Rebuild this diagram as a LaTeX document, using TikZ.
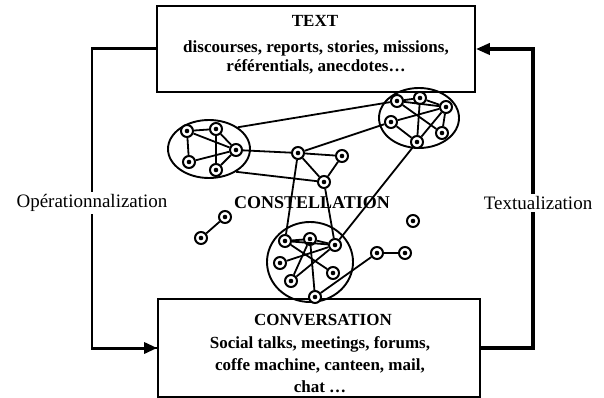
\documentclass[tikz,border=0pt]{standalone}
\usepackage{fontspec}
\setmainfont{Liberation Serif}
\usetikzlibrary{shapes.geometric,arrows.meta}
\begin{document}
\begin{tikzpicture}[x=1pt,y=-1pt,
  boxst/.style={draw,line width=1.6pt,rectangle,inner sep=0pt},
  boxtext/.style={anchor=base,font=\fontsize{17}{20}\selectfont\bfseries,inner sep=0pt},
  lbl/.style={font=\fontsize{19}{22}\selectfont,fill=white,inner sep=2pt},
  clus/.style={draw,line width=1.9pt,ellipse,inner sep=0pt},
  nd/.style={draw,line width=2pt,circle,minimum size=12pt,inner sep=0pt,fill=white},
  ed/.style={line width=1.8pt}]
\useasboundingbox (0,0) rectangle (604,398);

% boxes
\node[boxst,minimum width=318pt,minimum height=86pt] (T) at (316,49) {};
\node[boxst,minimum width=322pt,minimum height=98pt] (C) at (319,348) {};

\node[boxtext] (tx0) at (315,27) {TEXT};
\node[boxtext] (tx1) at (316,53) {discourses, reports, stories, missions,};
\node[boxtext] (tx2) at (316,72) {référentials, anecdotes…};

\node[boxtext] (cv0) at (323,325) {CONVERSATION};
\node[boxtext] (cv1) at (320,348) {Social talks, meetings, forums,};
\node[boxtext] (cv2) at (320,370) {coffe machine, canteen, mail,};
\node[boxtext] (cv3) at (320,392) {chat …};

% side connectors
\coordinate (L1) at (92,49);
\coordinate (L2) at (92,348);
\coordinate (R1) at (533,348);
\draw[line width=2pt] (T.west) -- (L1) -- (L2) -- (C.west);
\draw[line width=3pt] (T.west) -- ([xshift=-1pt]L1);
\draw[line width=3pt,-{Triangle[length=13pt,width=11pt]}] ([xshift=-1pt]L2) -- (C.west);
\draw[line width=4pt,-{Triangle[length=14pt,width=11pt]}] (C.east) -- (R1) |- (T.east);
\node[lbl] (lop) at (92,203) {Opérationnalization};
\node[lbl] (ltx) at (538,203) {Textualization};

% clusters
\node[clus,minimum width=82pt,minimum height=58pt] (EA) at (209,149) {};
\node[clus,minimum width=80pt,minimum height=60pt] (EB) at (419,118) {};
\node[clus,minimum width=86pt,minimum height=80pt] (ED) at (310,262) {};

\node[font=\fontsize{18}{20}\selectfont\bfseries,inner sep=0pt] (cst) at (312,203) {CONSTELLATION};

% nodes
\node[nd] (a1) at (187,131) {};
\node[nd] (a2) at (216,129) {};
\node[nd] (a3) at (236,150) {};
\node[nd] (a4) at (189,162) {};
\node[nd] (a5) at (216,170) {};

\node[nd] (b1) at (397,101) {};
\node[nd] (b2) at (420,98) {};
\node[nd] (b3) at (446,107) {};
\node[nd] (b4) at (391,122) {};
\node[nd] (b5) at (442,133) {};
\node[nd] (b6) at (417,142) {};

\node[nd] (c1) at (298,153) {};
\node[nd] (c2) at (342,156) {};
\node[nd] (c3) at (324,182) {};

\node[nd] (d1) at (285,241) {};
\node[nd] (d2) at (310,239) {};
\node[nd] (d3) at (335,245) {};
\node[nd] (d4) at (280,263) {};
\node[nd] (d5) at (333,273) {};
\node[nd] (d6) at (291,281) {};
\node[nd] (d7) at (315,297) {};

\node[nd] (e1) at (225,217) {};
\node[nd] (e2) at (201,238) {};
\node[nd] (s1) at (413,221) {};
\node[nd] (f1) at (377,253) {};
\node[nd] (f2) at (405,253) {};

\foreach \n in {a1,a2,a3,a4,a5,b1,b2,b3,b4,b5,b6,c1,c2,c3,d1,d2,d3,d4,d5,d6,d7,e1,e2,s1,f1,f2}
  \fill (\n.center) circle (2.3);

% edges
\draw[ed] (a1) -- (a2);
\draw[ed] (a1) -- (a4);
\draw[ed] (a1) -- (a3);
\draw[ed] (a2) -- (a3);
\draw[ed] (a2) -- (a5);
\draw[ed] (a4) -- (a3);
\draw[ed] (a5) -- (a3);

\draw[ed] (b1) -- (b2);
\draw[ed] (b2) -- (b3);
\draw[ed] (b1) -- (b3);
\draw[ed] (b1) -- (b5);
\draw[ed] (b2) -- (b6);
\draw[ed] (b3) -- (b4);
\draw[ed] (b3) -- (b6);
\draw[ed] (b3) -- (b5);
\draw[ed] (b4) -- (b6);

\draw[ed] (d1) -- (d2);
\draw[ed] (d2) -- (d3);
\draw[ed] (d1) -- (d3);
\draw[ed] (d1) -- (d5);
\draw[ed] (d4) -- (d3);
\draw[ed] (d2) -- (d6);
\draw[ed] (d2) -- (d7);
\draw[ed] (d3) -- (d6);

\draw[ed] (EA.37) -- (b1);
\draw[ed] (a3) -- (c1);
\draw[ed] (EA.-40) -- (c3);
\draw[ed] (c1) -- (c2);
\draw[ed] (c1) -- (c3);
\draw[ed] (c2) -- (c3);
\draw[ed] (c1) -- (b4);
\draw[ed] (c1) -- (d1);
\draw[ed] (c3) -- (d3);
\draw[ed] (b6) -- (d3);
\draw[ed] (e1) -- (e2);
\draw[ed] (f1) -- (f2);
\draw[ed] (f1) -- (d7);
\end{tikzpicture}
\end{document}
